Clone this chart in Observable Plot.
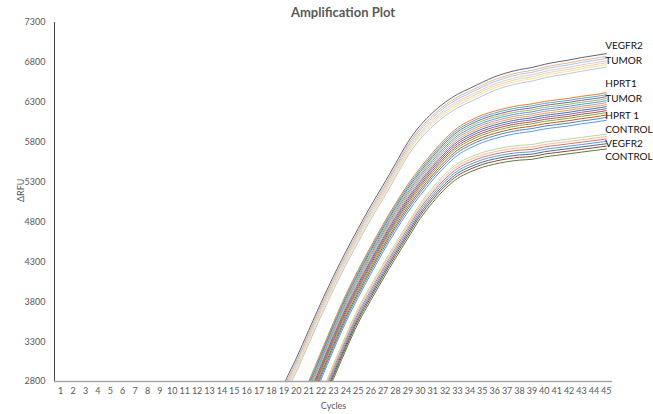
<!DOCTYPE html>
<html>
<head>
<meta charset="utf-8">
<script src="https://cdn.jsdelivr.net/npm/d3@7"></script>
<script src="https://cdn.jsdelivr.net/npm/@observablehq/plot@0.6"></script>
<style>
  html, body { margin: 0; padding: 0; background: #fff; }
  #wrap { position: relative; width: 653px; height: 414px; overflow: hidden; }
  #title { position: absolute; top: 4px; left: 0; width: 686px; text-align: center;
           font-family: Lato, "Open Sans", sans-serif; font-weight: bold; font-size: 13px; color: #595959; }
</style>
</head>
<body>
<div id="wrap"><div id="title">Amplification Plot</div></div>
<script>
// ---- Data ----
const cycleTicks = d3.range(1, 46);               // x tick labels 1..45
const yTicks = [2800, 3300, 3800, 4300, 4800, 5300, 5800, 6300, 6800, 7300];

// VEGFR2 TUMOR curves (cycles 18..45)
const tumorCycles = d3.range(18, 46);
const tumor1 = [2300,2760,3090,3440,3790,4120,4430,4720,5000,5260,5530,5800,6010,6170,6300,6400,6475,6550,6620,6670,6710,6735,6775,6805,6830,6860,6885,6910];
const tumor2 = [2265,2725,3055,3405,3755,4085,4395,4685,4965,5225,5495,5765,5975,6135,6265,6365,6440,6515,6585,6635,6675,6700,6740,6770,6795,6825,6850,6875];
const tumor3 = [2240,2700,3030,3380,3730,4060,4370,4660,4940,5200,5470,5740,5950,6110,6240,6340,6415,6490,6560,6610,6650,6675,6715,6745,6770,6800,6825,6850];
const tumor4 = [2210,2670,3000,3350,3700,4030,4340,4630,4910,5170,5440,5710,5920,6080,6210,6310,6385,6460,6530,6580,6620,6645,6685,6715,6740,6770,6795,6820];
const tumor5 = [2185,2645,2975,3325,3675,4005,4315,4605,4885,5145,5415,5685,5895,6055,6185,6285,6360,6435,6505,6555,6595,6620,6660,6690,6715,6745,6770,6795];
const tumor6 = [2160,2620,2950,3300,3650,3980,4290,4580,4860,5120,5390,5660,5870,6030,6160,6260,6335,6410,6480,6530,6570,6595,6635,6665,6690,6720,6745,6770];
const tumor7 = [2130,2590,2920,3270,3620,3950,4260,4550,4830,5090,5360,5630,5840,6000,6130,6230,6305,6380,6450,6500,6540,6565,6605,6635,6660,6690,6715,6740];
const tumorColors = ["#5a6577","#f4b183","#a9c8e8","#d0d0d0","#f8cbad","#ffe08a","#b4c7e7"];

// HPRT1 TUMOR / HPRT 1 CONTROL curves (cycles 20..45)
const hprtCycles = d3.range(20, 46);
const hprt1  = [2450,2800,3170,3540,3890,4200,4490,4770,5030,5270,5480,5670,5840,5980,6070,6140,6190,6230,6260,6280,6310,6330,6350,6375,6395,6420];
const hprt2  = [2425,2775,3145,3515,3865,4175,4465,4745,5005,5245,5455,5645,5815,5955,6045,6115,6165,6205,6235,6255,6285,6305,6325,6350,6370,6395];
const hprt3  = [2400,2750,3120,3490,3840,4150,4440,4720,4980,5220,5430,5620,5790,5930,6020,6090,6140,6180,6210,6230,6260,6280,6300,6325,6345,6370];
const hprt4  = [2375,2725,3095,3465,3815,4125,4415,4695,4955,5195,5405,5595,5765,5905,5995,6065,6115,6155,6185,6205,6235,6255,6275,6300,6320,6345];
const hprt5  = [2350,2700,3070,3440,3790,4100,4390,4670,4930,5170,5380,5570,5740,5880,5970,6040,6090,6130,6160,6180,6210,6230,6250,6275,6295,6320];
const hprt6  = [2325,2675,3045,3415,3765,4075,4365,4645,4905,5145,5355,5545,5715,5855,5945,6015,6065,6105,6135,6155,6185,6205,6225,6250,6270,6295];
const hprt7  = [2300,2650,3020,3390,3740,4050,4340,4620,4880,5120,5330,5520,5690,5830,5920,5990,6040,6080,6110,6130,6160,6180,6200,6225,6245,6270];
const hprt8  = [2275,2625,2995,3365,3715,4025,4315,4595,4855,5095,5305,5495,5665,5805,5895,5965,6015,6055,6085,6105,6135,6155,6175,6200,6220,6245];
const hprt9  = [2250,2600,2970,3340,3690,4000,4290,4570,4830,5070,5280,5470,5640,5780,5870,5940,5990,6030,6060,6080,6110,6130,6150,6175,6195,6220];
const hprt10 = [2225,2575,2945,3315,3665,3975,4265,4545,4805,5045,5255,5445,5615,5755,5845,5915,5965,6005,6035,6055,6085,6105,6125,6150,6170,6195];
const hprt11 = [2200,2550,2920,3290,3640,3950,4240,4520,4780,5020,5230,5420,5590,5730,5820,5890,5940,5980,6010,6030,6060,6080,6100,6125,6145,6170];
const hprt12 = [2170,2520,2890,3260,3610,3920,4210,4490,4750,4990,5200,5390,5560,5700,5790,5860,5910,5950,5980,6000,6030,6050,6070,6095,6115,6140];
const hprt13 = [2140,2490,2860,3230,3580,3890,4180,4460,4720,4960,5170,5360,5530,5670,5760,5830,5880,5920,5950,5970,6000,6020,6040,6065,6085,6110];
const hprt14 = [2105,2455,2825,3195,3545,3855,4145,4425,4685,4925,5135,5325,5495,5635,5725,5795,5845,5885,5915,5935,5965,5985,6005,6030,6050,6075];
const hprtColors = ["#ed7d31","#4bacc6","#8064a2","#9bbb59","#5b9bd5","#a5a5a5","#f79646","#4472c4","#7f6aa6","#c0504d","#70ad47","#c55a11","#4f81bd","#5b9bd5"];

// VEGFR2 CONTROL curves (cycles 21..45)
const controlCycles = d3.range(21, 46);
const control1 = [2400,2650,3020,3380,3720,4000,4270,4530,4780,5030,5230,5400,5530,5610,5670,5710,5740,5760,5770,5800,5820,5840,5860,5880,5900];
const control2 = [2370,2620,2990,3350,3690,3970,4240,4500,4750,5000,5200,5370,5500,5580,5640,5680,5710,5730,5740,5770,5790,5810,5830,5850,5870];
const control3 = [2340,2590,2960,3320,3660,3940,4210,4470,4720,4970,5170,5340,5470,5550,5610,5650,5680,5700,5710,5740,5760,5780,5800,5820,5840];
const control4 = [2310,2560,2930,3290,3630,3910,4180,4440,4690,4940,5140,5310,5440,5520,5580,5620,5650,5670,5680,5710,5730,5750,5770,5790,5810];
const control5 = [2280,2530,2900,3260,3600,3880,4150,4410,4660,4910,5110,5280,5410,5490,5550,5590,5620,5640,5650,5680,5700,5720,5740,5760,5780];
const control6 = [2250,2500,2870,3230,3570,3850,4120,4380,4630,4880,5080,5250,5380,5460,5520,5560,5590,5610,5620,5650,5670,5690,5710,5730,5750];
const control7 = [2215,2465,2835,3195,3535,3815,4085,4345,4595,4845,5045,5215,5345,5425,5485,5525,5555,5575,5585,5615,5635,5655,5675,5695,5715];
const controlColors = ["#b5d99c","#f2b8a8","#d9735b","#5b9bd5","#4d6a8a","#8b4a3a","#5f7a3a"];

// Annotation labels at the right end
const labelTexts  = ["VEGFR2","TUMOR","HPRT1","TUMOR","HPRT 1","CONTROL","VEGFR2","CONTROL"];
const labelValues = [7003, 6824, 6532, 6344, 6126, 5955, 5780, 5612];

// ---- Build ----
const groups = [
  {cycles: tumorCycles, series: [tumor1,tumor2,tumor3,tumor4,tumor5,tumor6,tumor7], colors: tumorColors},
  {cycles: hprtCycles, series: [hprt1,hprt2,hprt3,hprt4,hprt5,hprt6,hprt7,hprt8,hprt9,hprt10,hprt11,hprt12,hprt13,hprt14], colors: hprtColors},
  {cycles: controlCycles, series: [control1,control2,control3,control4,control5,control6,control7], colors: controlColors}
];
const lineMarks = [];
for (const g of groups) {
  g.series.forEach((vals, i) => {
    const rows = vals.map((v, j) => ({cycle: g.cycles[j], value: v}));
    lineMarks.push(Plot.line(rows, {x: "cycle", y: "value", stroke: g.colors[i], strokeWidth: 1, curve: "monotone-x", clip: true}));
  });
}
const labels = labelTexts.map((t, i) => ({text: t, value: labelValues[i]}));

const chart = Plot.plot({
  width: 653,
  height: 414,
  marginLeft: 54,
  marginRight: 41,
  marginTop: 22,
  marginBottom: 33,
  style: {fontFamily: "Lato, 'Open Sans', sans-serif", fontSize: "9px", color: "#595959", background: "transparent", overflow: "visible"},
  x: {domain: [0.5, 45.5], ticks: cycleTicks, tickSize: 0, tickPadding: 6, tickFormat: d => String(d), label: null},
  y: {domain: [2800, 7300], ticks: yTicks, tickSize: 0, tickPadding: 9, tickFormat: d => String(d), label: null},
  marks: [
    ...lineMarks,
    Plot.ruleX([0.5], {stroke: "#404040", strokeWidth: 1}),
    Plot.ruleY([2800], {stroke: "#a6a6a6", strokeWidth: 1.5}),
    Plot.text(labels, {x: 45, y: "value", text: "text", textAnchor: "start", dx: -1, fill: "#111", fontSize: 10}),
    Plot.text(["Cycles"], {frameAnchor: "bottom", dy: 27, fill: "#595959", fontSize: 9}),
    Plot.text(["ΔRFU"], {frameAnchor: "left", dx: -33, rotate: -90, fill: "#595959", fontSize: 9})
  ]
});
document.getElementById("wrap").appendChild(chart);
</script>
</body>
</html>
